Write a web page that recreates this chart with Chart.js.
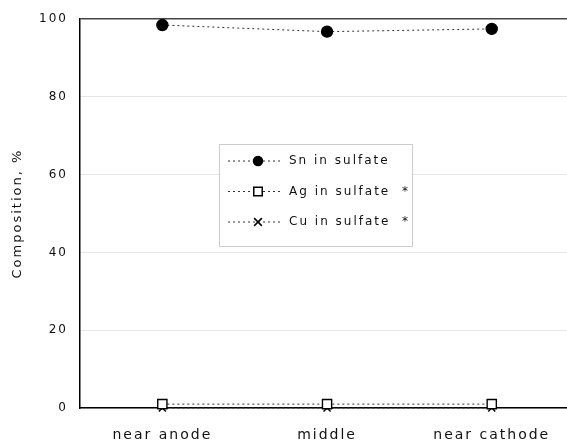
<!DOCTYPE html>
<html>
<head>
<meta charset="utf-8">
<script src="https://cdn.jsdelivr.net/npm/chart.js@4.4.0/dist/chart.umd.min.js"></script>
<style>
  html, body { margin: 0; padding: 0; background: #fff; overflow: hidden; }
</style>
</head>
<body>
<canvas id="comp-graph" width="582" height="443"></canvas>
<script>
const locations = ['near anode', 'middle', 'near cathode']
const snValues = [98.5, 96.8, 97.5]
const agValues = [1.0, 1.0, 1.0]
const cuValues = [0.0, 0.0, 0.0]
const yTicks = [0, 20, 40, 60, 80, 100]

const seriesNames = ['Sn in sulfate', 'Ag in sulfate  *', 'Cu in sulfate  *']

const fontFamily = '"DejaVu Sans", sans-serif'
const lineColor = '#333'

const makeSet = (label, data, style, radius, fill) => ({
   label: label,
   data: data,
   borderColor: lineColor,
   borderWidth: 1,
   borderDash: [2, 3],
   pointStyle: style,
   pointRadius: radius,
   pointBorderWidth: 1.4,
   pointBorderColor: '#000',
   pointBackgroundColor: fill,
   clip: false,
   tension: 0
})

// legend box drawn inside the plot
const legendBox = {
   id: 'legendBox',
   afterDraw(chart) {
      const c = chart.ctx
      const x0 = 219, y0 = 144, w = 193, h = 102
      c.save()
      c.fillStyle = '#fff'
      c.fillRect(x0, y0, w, h)
      c.strokeStyle = '#ccc'
      c.lineWidth = 1
      c.strokeRect(x0 + 0.5, y0 + 0.5, w, h)
      chart.data.datasets.forEach((ds, i) => {
         const y = 161 + i * 30.5
         c.strokeStyle = lineColor
         c.lineWidth = 1
         c.setLineDash([2, 3])
         c.beginPath()
         c.moveTo(228, y)
         c.lineTo(283, y)
         c.stroke()
         c.setLineDash([])
         c.fillStyle = ds.pointBackgroundColor
         c.strokeStyle = '#000'
         c.lineWidth = 1.5
         const r = ds.pointStyle === 'rect' ? 6 : (ds.pointStyle === 'crossRot' ? 5.5 : 4.5)
         Chart.helpers.drawPoint(c, { pointStyle: ds.pointStyle, radius: r, borderWidth: 1.5 }, 258, y)
         c.fillStyle = '#111'
         c.font = '12px ' + fontFamily
         c.letterSpacing = '2px'
         c.textBaseline = 'middle'
         c.textAlign = 'left'
         c.fillText(seriesNames[i], 289, y)
      })
      c.restore()
   }
}

const ctx = document.getElementById('comp-graph')

const compGraph = new Chart(ctx, {
   type: 'line',
   data: {
      labels: locations,
      datasets: [
         makeSet(seriesNames[0], snValues, 'circle', 5.5, '#000'),
         makeSet(seriesNames[1], agValues, 'rect', 6.5, '#fff'),
         makeSet(seriesNames[2], cuValues, 'crossRot', 5, '#fff')
      ]
   },
   options: {
      responsive: false,
      animation: false,
      layout: { padding: { top: 19, left: 0, right: 0, bottom: 0 } },
      plugins: {
         legend: { display: false },
         tooltip: { enabled: false }
      },
      scales: {
         x: {
            offset: true,
            grid: { display: false, drawTicks: false },
            border: { color: '#000', width: 1.5 },
            ticks: {
               color: '#111',
               padding: 19,
               maxRotation: 0,
               font: { family: fontFamily, size: 14 }
            },
            afterFit(scale) { scale.height = 35 }
         },
         y: {
            min: 0,
            max: 100,
            afterBuildTicks(scale) { scale.ticks = yTicks.map(v => ({ value: v })) },
            grid: {
               drawTicks: false,
               color: c => c.tick && c.tick.value === 100 ? '#444' : '#e6e6e6',
               lineWidth: c => c.tick && c.tick.value === 100 ? 1.5 : 1
            },
            border: { color: '#000', width: 1.5 },
            ticks: {
               color: '#111',
               padding: 12,
               font: { family: fontFamily, size: 12 }
            },
            title: {
               display: true,
               text: 'Composition, %',
               color: '#111',
               padding: { top: 10, bottom: 8 },
               font: { family: fontFamily, size: 13 }
            },
            afterFit(scale) { scale.width = 80 }
         }
      }
   },
   plugins: [{
      id: 'spacing',
      beforeDraw(chart) { chart.ctx.letterSpacing = '2px' }
   }, legendBox]
})
</script>
</body>
</html>
